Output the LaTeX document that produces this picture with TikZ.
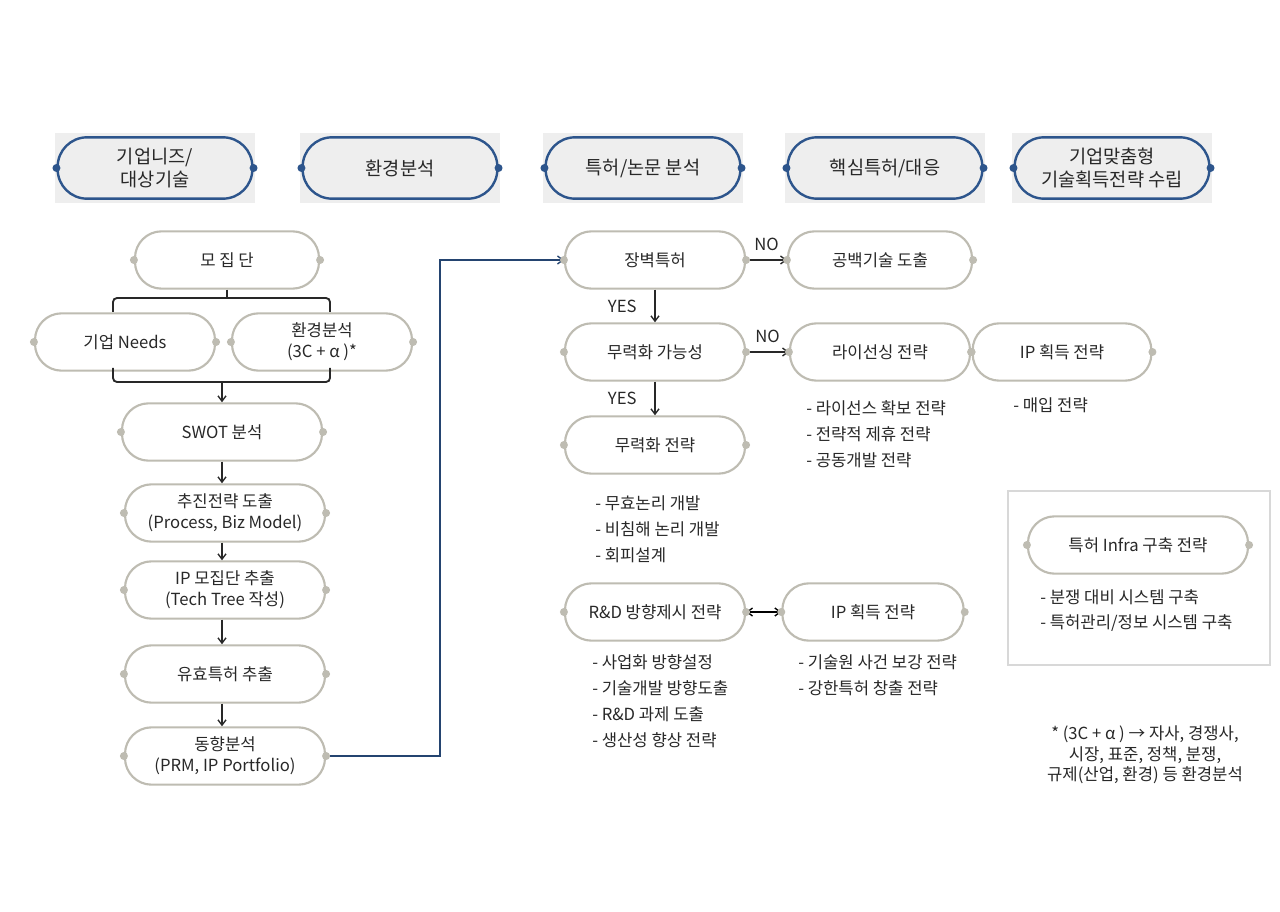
\documentclass[tikz,border=0pt]{standalone}
\usepackage{fontspec}
\setmainfont{Noto Sans CJK KR}
\usetikzlibrary{arrows.meta}
\definecolor{bord}{RGB}{190,188,178}
\definecolor{blu}{RGB}{45,85,140}
\definecolor{txt}{RGB}{40,40,40}
\definecolor{hbg}{RGB}{238,238,238}
\begin{document}
\begin{tikzpicture}[x=0.75pt,y=-0.75pt,font=\fontsize{12.5}{15.5}\selectfont,text=txt,
 stad/.style={draw=bord,line width=1.6pt,rounded corners=20pt,minimum height=43pt,align=center,inner sep=1pt},
 hdr/.style={draw=blu,line width=1.8pt,rounded corners=22pt,minimum height=46pt,minimum width=146pt,align=center,inner sep=1pt,font=\fontsize{14}{17}\selectfont},
 arr/.style={-{Straight Barb[length=4pt,width=6pt]},line width=1pt,draw=txt},
 lst/.style={anchor=west,inner sep=0pt}]
\useasboundingbox (0,0) rectangle (1280,912);
\fill[white] (0,0) rectangle (1280,912);
% header
\foreach \x/\n/\t in {155/h1/{기업니즈/\\대상기술},400/h2/{환경분석},643/h3/{특허/논문 분석},885/h4/{핵심특허/대응},1112/h5/{기업맞춤형\\기술획득전략 수립}}{
 \fill[hbg] (\x-100,133) rectangle (\x+100,203);
 \node[hdr] (\n) at (\x,168) {\t};
 \fill[blu] (\n.west) circle (3pt) (\n.east) circle (3pt);
}
% left column
\node[stad,minimum width=138pt] (mo) at (227,260) {모 집 단};
\node[stad,minimum width=135pt] (ne) at (125,342) {기업 Needs};
\node[stad,minimum width=135pt] (en) at (322,342) {환경분석\\(3C + \textit{α} )*};
\node[stad,minimum width=150pt] (sw) at (222,432) {SWOT 분석};
\node[stad,minimum width=150pt] (pu) at (225,513) {추진전략 도출\\(Process, Biz Model)};
\node[stad,minimum width=150pt] (ip) at (225,590) {IP 모집단 추출\\(Tech Tree 작성)};
\node[stad,minimum width=150pt] (yu) at (225,674) {유효특허 추출};
\node[stad,minimum width=150pt] (do) at (225,756) {동향분석\\(PRM, IP Portfolio)};
% bracket
\coordinate (bt) at (227,298);
\draw[line width=1.4pt,draw=txt] (mo.south) -- (bt);
\draw[line width=1.4pt,draw=txt,rounded corners=3pt] (113,312) -- (113,298) -- (330,298) -- (330,312);
\draw[line width=1.4pt,draw=txt,rounded corners=3pt] (113,368) -- (113,382) -- (330,382) -- (330,368);
\coordinate (bb) at (222,382);
\draw[arr] (bb) -- (sw.north);
\draw[arr] (sw.south) -- (pu.north -| sw.south);
\draw[arr] (pu.south -| sw.south) -- (ip.north -| sw.south);
\draw[arr] (ip.south -| sw.south) -- (yu.north -| sw.south);
\draw[arr] (yu.south -| sw.south) -- (do.north -| sw.south);
% middle
\node[stad,minimum width=135pt] (ja) at (655,260) {장벽특허};
\node[stad,minimum width=138pt] (gb) at (880,260) {공백기술 도출};
\node[stad,minimum width=135pt] (mg) at (655,352) {무력화 가능성};
\node[stad,minimum width=135pt] (ls) at (880,352) {라이선싱 전략};
\node[stad,minimum width=134pt] (ig) at (1062,352) {IP 획득 전략};
\node[stad,minimum width=135pt] (ms) at (655,445) {무력화 전략};
\node[stad,minimum width=135pt] (rd) at (655,612) {R\&D 방향제시 전략};
\node[stad,minimum width=136pt] (ig2) at (873,612) {IP 획득 전략};
\node[stad,minimum width=165pt] (inf) at (1138,545) {특허 Infra 구축 전략};
\draw[line width=2pt,draw=blu!80!black] (do.east) -- (440,756) -- (440,260) -- ++(95,0) coordinate (ja0);
\draw[arr,draw=blu!80!black] (ja0) -- (ja.west);
\draw[arr] (ja.east) -- (gb.west) node[midway,above=3pt] {NO};
\draw[arr] (mg.east) -- (ls.west) node[midway,above=3pt] {NO};
\draw[arr] (ja.south) -- (mg.north) node[midway,left=10pt] {YES};
\draw[arr] (mg.south) -- (ms.north) node[midway,left=10pt] {YES};
\draw[{Straight Barb[length=4pt,width=6pt]}-{Straight Barb[length=4pt,width=6pt]},line width=1pt] (rd.east) -- (ig2.west);
\foreach \n in {mo,ne,en,sw,pu,ip,yu,do,ja,gb,mg,ls,ig,ms,rd,ig2,inf}{
 \fill[bord] (\n.west) circle (3pt) (\n.east) circle (3pt);
}
% lists
\node[lst] (l1) at (595,503) {- 무효논리 개발};
\node[lst] (l2) at (595,529) {- 비침해 논리 개발};
\node[lst] (l3) at (595,555) {- 회피설계};
\node[lst] (r1) at (592,662) {- 사업화 방향설정};
\node[lst] (r2) at (592,688) {- 기술개발 방향도출};
\node[lst] (r3) at (592,714) {- R\&D 과제 도출};
\node[lst] (r4) at (592,740) {- 생산성 향상 전략};
\node[lst] (g1) at (798,662) {- 기술원 사건 보강 전략};
\node[lst] (g2) at (798,688) {- 강한특허 창출 전략};
\node[lst] (c1) at (806,408) {- 라이선스 확보 전략};
\node[lst] (c2) at (806,434) {- 전략적 제휴 전략};
\node[lst] (c3) at (806,460) {- 공동개발 전략};
\node[lst] (p1) at (1013,405) {- 매입 전략};
\draw[line width=2pt,draw=hbg!80!gray] (1008,491) rectangle (1270,665);
\node[lst] (f1) at (1040,597) {- 분쟁 대비 시스템 구축};
\node[lst] (f2) at (1040,623) {- 특허관리/정보 시스템 구축};
\node[align=center] (fn) at (1145,755) {* (3C + \textit{α} ) → 자사, 경쟁사,\\시장, 표준, 정책, 분쟁,\\규제(산업, 환경) 등 환경분석};
\end{tikzpicture}
\end{document}
